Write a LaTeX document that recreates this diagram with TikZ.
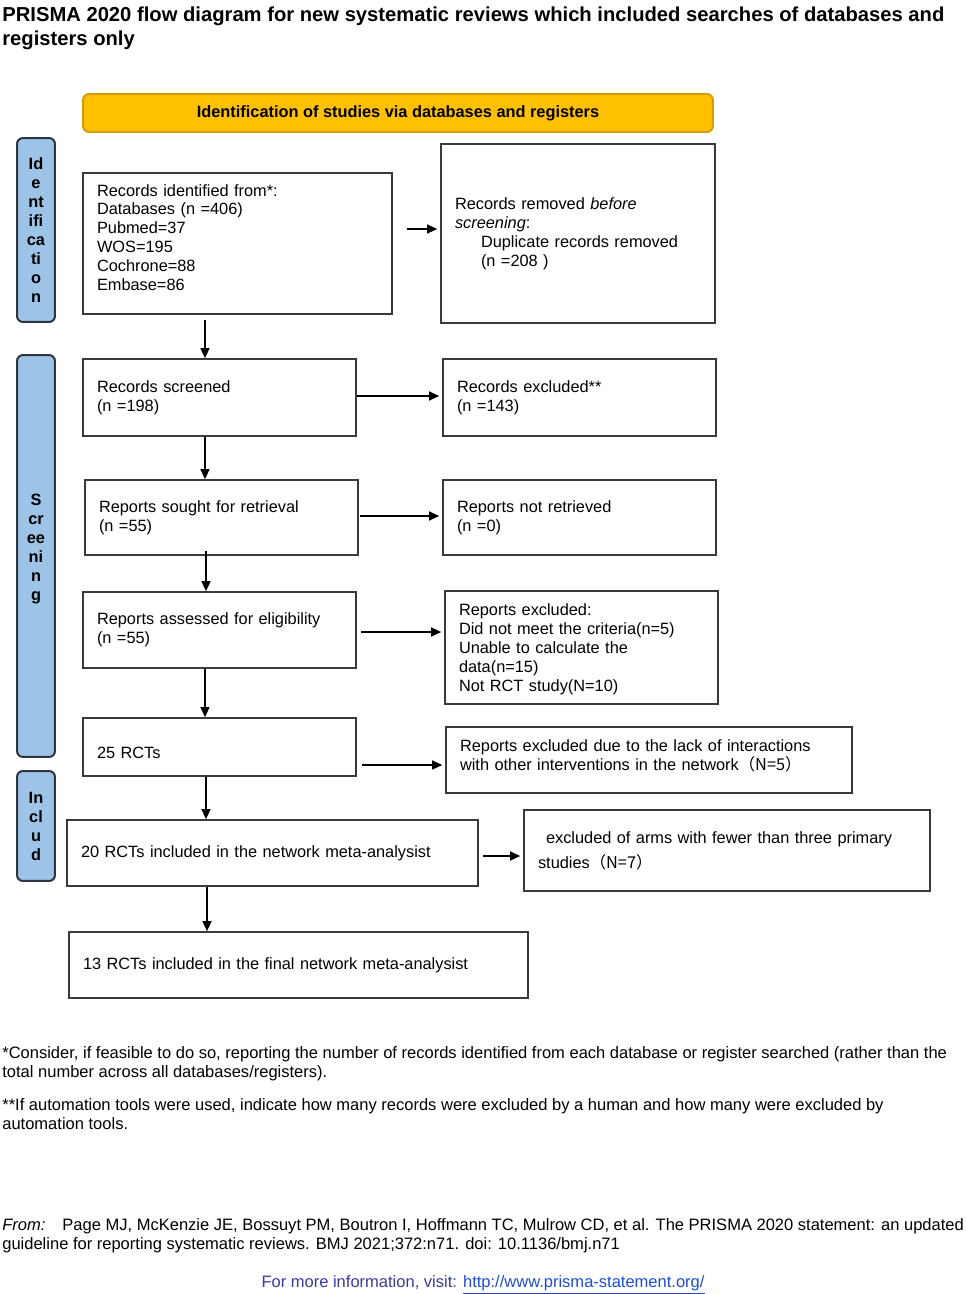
\documentclass[tikz,border=0pt]{standalone}
\usepackage{fontspec}
\setmainfont{Liberation Sans}
\newfontfamily\cjk{Noto Sans CJK SC}
\usetikzlibrary{arrows.meta}
\definecolor{boxline}{HTML}{3A3A3A}
\definecolor{hdrfill}{HTML}{FFC000}
\definecolor{hdrline}{HTML}{D49E00}
\definecolor{sidefill}{HTML}{9DC3E6}
\definecolor{sideline}{HTML}{2E3440}
\definecolor{infoblue}{HTML}{3A3A9A}
\definecolor{urlblue}{HTML}{1F4FD0}
\newcommand\myfs{\fontsize{9.3}{10.8}\selectfont}
\newcommand\myfn{\fontsize{9.4}{10.8}\selectfont}
\begin{document}
\begin{tikzpicture}[x=0.02cm,y=-0.02cm,
  box/.style={draw=boxline, line width=0.035cm, inner xsep=0.28cm, inner ysep=0pt, align=left, font=\myfs, text=black},
  side/.style={draw=sideline, fill=sidefill, line width=0.04cm, rounded corners=0.12cm, minimum width=0.76cm, inner sep=0pt, align=center, font=\myfs\bfseries},
  arr/.style={draw=black, line width=0.028cm, -{Triangle[length=0.2cm,width=0.18cm]}},
  fline/.style={anchor=base west, inner sep=0pt, font=\myfn}]
\useasboundingbox[fill=white] (0,0) rectangle (965,1294);

% title
\node[anchor=base west, inner sep=0pt, font=\fontsize{11.5}{13.6}\selectfont\bfseries] (t1) at (2,22) {PRISMA 2020 flow diagram for new systematic reviews which included searches of databases and};
\node[anchor=base west, inner sep=0pt, font=\fontsize{11.5}{13.6}\selectfont\bfseries] (t2) at (2,46) {registers only};

% header
\node[draw=hdrline, fill=hdrfill, line width=0.04cm, rounded corners=0.12cm, minimum width=12.6cm, minimum height=0.76cm, inner sep=0pt, font=\myfs\bfseries] (hdr) at (398,113) {Identification of studies via databases and registers};

% side labels
\node[side, minimum height=3.68cm] (sid) at (36,230) {Id\\e\\nt\\ifi\\ca\\ti\\o\\n};
\node[side, minimum height=8.04cm] (sscr) at (36,556) {S\\cr\\ee\\ni\\n\\g\\[-1.2pt]\mbox{}};
\node[side, minimum height=2.2cm] (sinc) at (36,826) {In\\cl\\u\\d};

% boxes
\node[box, minimum width=6.18cm, minimum height=2.82cm, text width=5.62cm] (rec) at (237.5,243.5) {Records identified from*:\\Databases (n =406)\\Pubmed=37\\WOS=195\\Cochrone=88\\Embase=86\\[-4pt]\mbox{}};
\node[box, minimum width=5.48cm, minimum height=3.58cm, text width=4.92cm] (rem) at (578,233.5) {Records removed \textit{before}\\\textit{screening}:\\\hspace*{0.52cm}Duplicate records removed\\\hspace*{0.52cm}(n =208 )};
\node[box, minimum width=5.46cm, minimum height=1.54cm, text width=4.90cm] (scr) at (219.5,397.5) {Records screened\\(n =198)};
\node[box, minimum width=5.46cm, minimum height=1.54cm, text width=4.90cm] (exc) at (579.5,397.5) {Records excluded**\\(n =143)};
\node[box, minimum width=5.46cm, minimum height=1.5cm, text width=4.90cm] (sou) at (221.5,517.5) {Reports sought for retrieval\\(n =55)};
\node[box, minimum width=5.46cm, minimum height=1.5cm, text width=4.90cm] (nr) at (579.5,517.5) {Reports not retrieved\\(n =0)};
\node[box, minimum width=5.46cm, minimum height=1.52cm, text width=4.90cm] (ass) at (219.5,630) {Reports assessed for eligibility\\(n =55)};
\node[box, minimum width=5.46cm, minimum height=2.26cm, text width=4.90cm] (rex) at (581.5,647.5) {\rule{0pt}{8.5pt}Reports excluded:\\Did not meet the criteria(n=5)\\Unable to calculate the\\data(n=15)\\Not RCT study(N=10)};
\node[box, minimum width=5.46cm, minimum height=1.16cm, text width=4.90cm, text height=13.6pt, text depth=0pt] (r25) at (219.5,747) {25 RCTs};
\node[box, minimum width=8.12cm, minimum height=1.32cm, text width=7.56cm] (lack) at (649,760) {Reports excluded due to the lack of interactions\\with other interventions in the network\cjk{（}N=5\cjk{）}\\[-5pt]\mbox{}};
\node[box, minimum width=8.22cm, minimum height=1.32cm, text width=7.66cm] (r20) at (272.5,853) {20 RCTs included in the network meta-analysist};
\node[box, minimum width=8.12cm, minimum height=1.62cm, text width=7.56cm] (arms) at (727,850.5) {\hspace*{0.16cm}excluded of arms with fewer than three primary\\[3.4pt]studies\cjk{（}N=7\cjk{）}};
\node[box, minimum width=9.18cm, minimum height=1.32cm, text width=8.62cm] (r13) at (298.5,965) {13 RCTs included in the final network meta-analysist};

% arrow guide coordinates
\coordinate (vA) at (205,0);
\coordinate (vB) at (206,0);
\coordinate (vC) at (207,0);
\coordinate (hA) at (0,229);
\coordinate (hB) at (0,396);
\coordinate (hC) at (0,516);
\coordinate (hD) at (0,632);
\coordinate (hE) at (0,765);
\coordinate (hF) at (0,856);

% vertical arrows
\draw[arr, shorten <=0.1cm] (rec.south -| vA) -- (scr.north -| vA);
\draw[arr] (scr.south -| vA) -- (sou.north -| vA);
\draw[arr, shorten <=-0.1cm] (sou.south -| vB) -- (ass.north -| vB);
\draw[arr] (ass.south -| vA) -- (r25.north -| vA);
\draw[arr] (r25.south -| vB) -- (r20.north -| vB);
\draw[arr] (r20.south -| vC) -- (r13.north -| vC);

% horizontal arrows
\draw[arr, shorten <=0.28cm, shorten >=0.06cm] (rec.east |- hA) -- (rem.west |- hA);
\draw[arr, shorten >=0.06cm] (scr.east |- hB) -- (exc.west |- hB);
\draw[arr, shorten <=0.02cm, shorten >=0.06cm] (sou.east |- hC) -- (nr.west |- hC);
\draw[arr, shorten <=0.08cm, shorten >=0.06cm] (ass.east |- hD) -- (rex.west |- hD);
\draw[arr, shorten <=0.1cm, shorten >=0.06cm] (r25.east |- hE) -- (lack.west |- hE);
\draw[arr, shorten <=0.08cm, shorten >=0.06cm] (r20.east |- hF) -- (arms.west |- hF);

% footnotes
\node[fline] (f1) at (2,1058) {*Consider, if feasible to do so, reporting the number of records identified from each database or register searched (rather than the};
\node[fline] (f2) at (2,1077) {total number across all databases/registers).};
\node[fline] (f3) at (2,1110) {**If automation tools were used, indicate how many records were excluded by a human and how many were excluded by};
\node[fline] (f4) at (2,1129) {automation tools.};
\node[fline] (f5) at (2,1230) {\textit{From:}\hspace{0.34cm}Page MJ, McKenzie JE, Bossuyt PM, Boutron I, Hoffmann TC, Mulrow CD, et al. The PRISMA 2020 statement: an updated};
\node[fline] (f6) at (2,1249) {guideline for reporting systematic reviews. BMJ 2021;372:n71. doi: 10.1136/bmj.n71};
\node[anchor=base, inner sep=0pt, font=\myfn] (f7) at (483,1287) {\textcolor{infoblue}{For more information, visit: }\textcolor{urlblue}{\underline{http://www.prisma-statement.org/}}};
\end{tikzpicture}
\end{document}
